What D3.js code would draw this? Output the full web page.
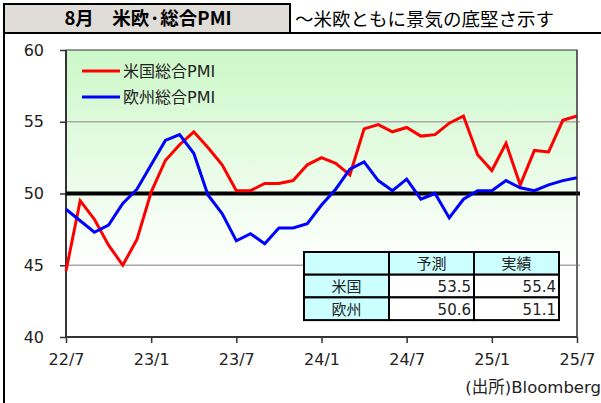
<!DOCTYPE html>
<html lang="ja">
<head>
<meta charset="UTF-8">
<title>米欧・総合PMI</title>
<script src="https://d3js.org/d3.v7.min.js"></script>
<style>
  body { margin: 0; background: #fff; }
  svg { display: block; font-family: "DejaVu Sans", "Noto Sans CJK JP", sans-serif; }
  .jp { font-family: "Noto Sans CJK JP", sans-serif; }
</style>
</head>
<body>
<svg width="601" height="403"></svg>
<script>
// months 22/7 .. 25/7
const months = [
  "22/7", "22/8", "22/9", "22/10", "22/11", "22/12",
  "23/1", "23/2", "23/3", "23/4", "23/5", "23/6",
  "23/7", "23/8", "23/9", "23/10", "23/11", "23/12",
  "24/1", "24/2", "24/3", "24/4", "24/5", "24/6",
  "24/7", "24/8", "24/9", "24/10", "24/11", "24/12",
  "25/1", "25/2", "25/3", "25/4", "25/5", "25/6", "25/7"];
const xTickLabels = ["22/7", "23/1", "23/7", "24/1", "24/7", "25/1", "25/7"];
const yTicks = [40, 45, 50, 55, 60];

const usPMI = [44.6, 49.5, 48.2, 46.4, 45.0, 46.8, 50.1, 52.3, 53.4, 54.3, 53.2, 52.0,
  50.2, 50.2, 50.7, 50.7, 50.9, 52.0, 52.5, 52.1, 51.3, 54.5, 54.8, 54.3,
  54.6, 54.0, 54.1, 54.9, 55.4, 52.7, 51.6, 53.5, 50.6, 53.0, 52.9, 55.1, 55.4];
const euPMI = [48.9, 48.1, 47.3, 47.8, 49.3, 50.3, 52.0, 53.7, 54.1, 52.8, 49.9, 48.6,
  46.7, 47.2, 46.5, 47.6, 47.6, 47.9, 49.2, 50.3, 51.7, 52.2, 50.9, 50.2,
  51.0, 49.6, 50.0, 48.3, 49.6, 50.2, 50.2, 50.9, 50.4, 50.2, 50.6, 50.9, 51.1];

const seriesNames = ["米国総合PMI", "欧州総合PMI"];
const seriesColors = ["#ff0000", "#0000ff"];

const tableHeader = ["", "予測", "実績"];
const tableRows = [["米国", "53.5", "55.4"], ["欧州", "50.6", "51.1"]];

const svg = d3.select("svg");

// frame + title
svg.append("line").attr("x1", 4).attr("x2", 4).attr("y1", 4).attr("y2", 403)
  .attr("stroke", "#000").attr("stroke-width", 2);
svg.append("line").attr("x1", 4).attr("x2", 601).attr("y1", 33).attr("y2", 33)
  .attr("stroke", "#000").attr("stroke-width", 2);
svg.append("rect").attr("x", 4).attr("y", 4).attr("width", 286).attr("height", 29)
  .attr("fill", "#e0dcd8").attr("stroke", "#000").attr("stroke-width", 2);
svg.append("text").attr("class", "jp").attr("x", 148).attr("y", 25)
  .attr("text-anchor", "middle").attr("font-size", 18.5).attr("font-weight", "bold")
  .text("8月　米欧·総合PMI");
svg.append("text").attr("class", "jp").attr("x", 295).attr("y", 26)
  .attr("font-size", 18.5).text("～米欧ともに景気の底堅さ示す");

const pLeft = 66, pRight = 577, pTop = 50, pBottom = 337;

const x = d3.scalePoint().domain(months).range([pLeft, pRight]);
const y = d3.scaleLinear().domain([40, 60]).range([pBottom, pTop]);

// plot background gradient
const grad = svg.append("defs").append("linearGradient")
  .attr("id", "bg").attr("x1", 0).attr("x2", 0).attr("y1", 0).attr("y2", 1);
grad.append("stop").attr("offset", "0%").attr("stop-color", "#ccf8c8");
grad.append("stop").attr("offset", "75%").attr("stop-color", "#ffffff");
svg.append("rect").attr("x", pLeft).attr("y", pTop)
  .attr("width", pRight - pLeft).attr("height", pBottom - pTop)
  .attr("fill", "url(#bg)").attr("stroke", "#333").attr("stroke-width", 1);

// gridlines
svg.append("g").selectAll("line").data([45, 55]).join("line")
  .attr("x1", pLeft).attr("x2", pRight + 3)
  .attr("y1", d => y(d)).attr("y2", d => y(d))
  .attr("stroke", "#a8a8a8").attr("stroke-width", 1.5);

// axes
const yAxis = svg.append("g").attr("transform", `translate(${pLeft},0)`)
  .call(d3.axisLeft(y).tickValues(yTicks).tickSize(6).tickPadding(16));
const xAxis = svg.append("g").attr("transform", `translate(0,${pBottom})`)
  .call(d3.axisBottom(x).tickValues(xTickLabels).tickSize(6).tickPadding(11));
[yAxis, xAxis].forEach(a => {
  a.select(".domain").attr("stroke", "#333").attr("stroke-width", 2);
  a.selectAll(".tick line").attr("stroke", "#333").attr("stroke-width", 1.5);
  a.selectAll("text").attr("font-size", 16).attr("fill", "#222")
    .attr("font-family", "DejaVu Sans");
});
yAxis.select(".domain").attr("d", `M0,${pBottom}V${pTop}`);
xAxis.select(".domain").attr("d", `M${pLeft},0H${pRight}`);

// 50 line
svg.append("line").attr("x1", pLeft).attr("x2", pRight + 3)
  .attr("y1", y(50)).attr("y2", y(50))
  .attr("stroke", "#000").attr("stroke-width", 4);

// series
const line = d3.line().x((d, i) => x(months[i])).y(d => y(d));
[usPMI, euPMI].forEach((s, k) => {
  svg.append("path").datum(s).attr("d", line)
    .attr("fill", "none").attr("stroke", seriesColors[k])
    .attr("stroke-width", 3).attr("stroke-linejoin", "miter");
});
// redraw right border over line ends
svg.append("line").attr("x1", pRight).attr("x2", pRight).attr("y1", pTop).attr("y2", pBottom)
  .attr("stroke", "#333").attr("stroke-width", 1);

// legend
const legend = svg.append("g").selectAll("g").data(seriesNames).join("g")
  .attr("transform", (d, i) => `translate(82,${71 + i * 26})`);
legend.append("line").attr("x1", 0).attr("x2", 38)
  .attr("stroke", (d, i) => seriesColors[i]).attr("stroke-width", 3);
legend.append("text").attr("x", 41).attr("y", 6)
  .attr("font-size", 16).attr("fill", "#222").text(d => d);

// table
const tx = 304, ty = 252, cw = 85, rh = 22.7;
const tbl = svg.append("g");
const allRows = [tableHeader].concat(tableRows);
allRows.forEach((row, r) => {
  row.forEach((cell, c) => {
    tbl.append("rect").attr("x", tx + c * cw).attr("y", ty + r * rh)
      .attr("width", cw).attr("height", rh)
      .attr("fill", (r === 0 || c === 0) ? "#ccffff" : "#ffffff")
      .attr("stroke", "#000").attr("stroke-width", 2);
  });
});
allRows.forEach((row, r) => {
  row.forEach((cell, c) => {
    const numeric = r > 0 && c > 0;
    tbl.append("text")
      .attr("class", numeric ? null : "jp")
      .attr("x", numeric ? tx + (c + 1) * cw - 3 : tx + c * cw + cw / 2)
      .attr("y", ty + r * rh + rh / 2 + 6)
      .attr("text-anchor", numeric ? "end" : "middle")
      .attr("font-size", 15).attr("fill", "#222").text(cell);
  });
});

// source
svg.append("text").attr("x", 601).attr("y", 393)
  .attr("text-anchor", "end").attr("font-size", 16.5).attr("fill", "#222")
  .text("(出所)Bloomberg");
</script>
</body>
</html>
